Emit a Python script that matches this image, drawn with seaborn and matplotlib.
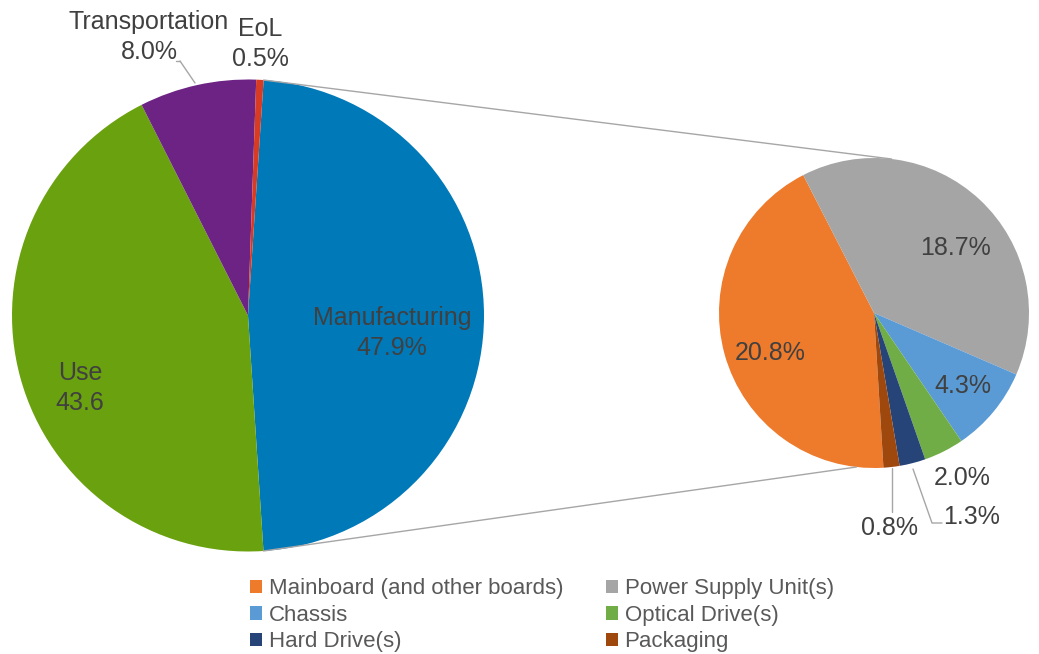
import numpy as np
import matplotlib.pyplot as plt
import seaborn as sns

# main pie
main_labels = ['Manufacturing', 'Use', 'Transportation', 'EoL']
main_values = [47.9, 43.6, 8.0, 0.5]
main_text = ['Manufacturing\n47.9%', 'Use\n43.6', 'Transportation\n8.0%', 'EoL\n0.5%']
main_colors = ['#0079B9', '#6AA10E', '#6C2383', '#D83B24']

# breakdown of manufacturing
sub_labels = ['Mainboard (and other boards)', 'Power Supply Unit(s)', 'Chassis',
              'Optical Drive(s)', 'Hard Drive(s)', 'Packaging']
sub_values = [20.8, 18.7, 4.3, 2.0, 1.3, 0.8]
sub_colors = ['#EE7A2C', '#A5A5A5', '#5B9BD5', '#70AD47', '#264478', '#9E480E']

W, H = 1039, 654
sns.set_theme(style='white')
plt.rcParams['font.family'] = ['Liberation Sans', 'DejaVu Sans']

fig = plt.figure(figsize=(W / 100, H / 100), dpi=100)
ax = fig.add_axes([0, 0, 1, 1])

def py(y):
    return H - y

c1, r1 = (248, py(315.5)), 236
c2, r2 = (874, py(313)), 155
start1 = 86.2
start2 = -86.5

ax.pie(main_values, colors=main_colors, startangle=start1, counterclock=False,
       center=c1, radius=r1, wedgeprops=dict(linewidth=0))
sub_wedges, _ = ax.pie(sub_values, colors=sub_colors, startangle=start2, counterclock=False,
                       center=c2, radius=r2, wedgeprops=dict(linewidth=0))

# connector lines between the two pies
a_top = np.deg2rad(start1)
a_bot = np.deg2rad(start1 - 360 * main_values[0] / sum(main_values))
p1 = (c1[0] + r1 * np.cos(a_top), c1[1] + r1 * np.sin(a_top))
p2 = (c1[0] + r1 * np.cos(a_bot), c1[1] + r1 * np.sin(a_bot))
q1 = (c2[0] + r2 * np.cos(np.deg2rad(83.5)), c2[1] + r2 * np.sin(np.deg2rad(83.5)))
q2 = (c2[0] + r2 * np.cos(np.deg2rad(-96.5)), c2[1] + r2 * np.sin(np.deg2rad(-96.5)))
ax.plot([p1[0], q1[0]], [p1[1], q1[1]], color='#A6A6A6', lw=1)
ax.plot([p2[0], q2[0]], [p2[1], q2[1]], color='#A6A6A6', lw=1)

tc = '#404040'
fs = 18
main_pos = [(392, 333), (80, 388), (149, 37), (260, 44)]
for t, (x, y) in zip(main_text, main_pos):
    ax.text(x, py(y), t, ha='center', va='center', fontsize=fs, color=tc, linespacing=1.35)

sub_pos = [(770, 353), (956, 248), (963, 386), (962, 478), (972, 517), (890, 528)]
for v, (x, y) in zip(sub_values, sub_pos):
    ax.text(x, py(y), f'{v}%', ha='center', va='center', fontsize=fs, color=tc)

# leader lines
ax.plot([180, 195], [py(61), py(83)], color='#A6A6A6', lw=1)
ax.plot([176, 180], [py(61), py(61)], color='#A6A6A6', lw=1)
ax.plot([892, 892], [py(468), py(512)], color='#A6A6A6', lw=1)
ax.plot([913, 932, 942], [py(469), py(523), py(523)], color='#A6A6A6', lw=1)

ax.set_xlim(0, W)
ax.set_ylim(0, H)
ax.set_aspect('equal')
ax.axis('off')

# legend is filled row by row in the reference
order = [0, 2, 4, 1, 3, 5]
fig.legend([sub_wedges[i] for i in order], [sub_labels[i] for i in order], ncol=2,
           loc='upper left', bbox_to_anchor=(239 / W, 1 - 567 / H),
           frameon=False, fontsize=16, handlelength=0.55, handleheight=0.55, handletextpad=0.3,
           columnspacing=1.9, labelspacing=0.25, labelcolor='#595959', borderpad=0)

fig.savefig('out.png', dpi=100)
